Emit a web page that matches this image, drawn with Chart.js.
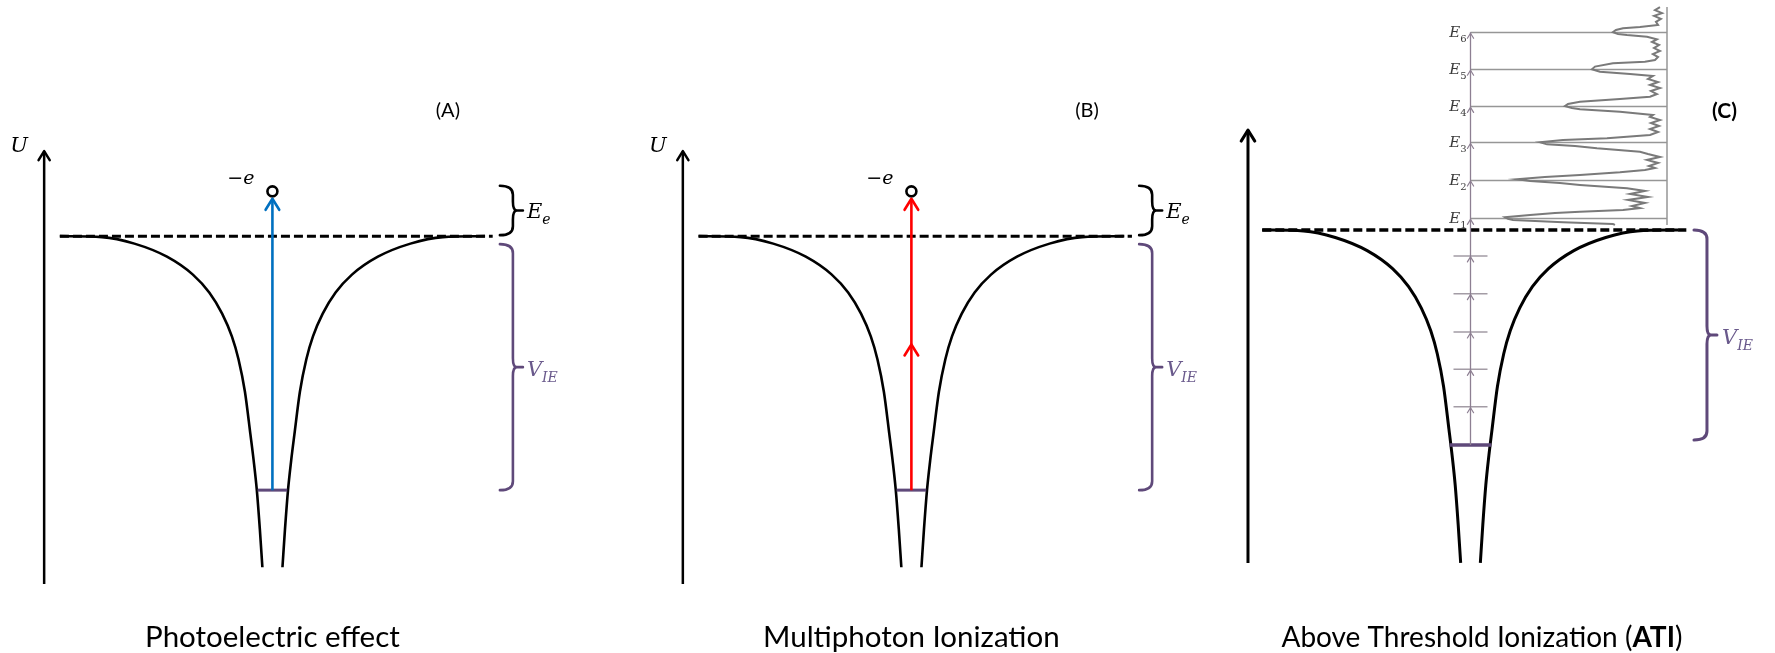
<!DOCTYPE html>
<html>
<head>
<meta charset="utf-8">
<script src="https://cdn.jsdelivr.net/npm/chart.js@4.4.1/dist/chart.umd.min.js"></script>
<style>
html,body{margin:0;padding:0;background:#fff;}
#wrap{position:relative;width:1775px;height:653px;overflow:hidden;background:#fff;}
#wrap canvas{position:absolute;top:0;}
</style>
</head>
<body>
<div id="wrap">
<canvas id="pa" width="600" height="653" style="left:0px"></canvas>
<canvas id="pb" width="630" height="653" style="left:600px"></canvas>
<canvas id="pc" width="545" height="653" style="left:1230px"></canvas>
</div>
<script>
// --- data (r in a.u. from the nucleus, energies in eV) ---

// left branch of the binding potential, right branch is its mirror image
const wellR = [-10.91, -8.74, -7.08, -5.41, -4.08, -3.24, -2.58, -2.08, -1.74, -1.41, -1.13, -0.96, -0.80, -0.645, -0.515];
const wellU = [0, -0.05, -0.40, -1.10, -2.06, -3.02, -4.15, -5.37, -6.59, -8.33, -10.60, -12.03, -13.60, -15.69, -17.73];
const thresholdR = [-10.9, 11.3];

// bound state per panel (A, B, C) and its width inside the well
const groundU = [-13.6, -13.6, -11.45];
const groundHalfR = [0.76, 0.76, 1.09];

// absorbed photons
const photonsA = [15.6];
const photonsB = [7.8, 7.8];
const electronU = 2.4;
const kineticTopU = 2.7;

// ATI: intermediate photon steps below threshold and the peak energies E1..E6
const ladderC = [-9.41, -7.42, -5.43, -3.39, -1.38];
const atiPeakU = [0.62, 2.66, 4.66, 6.58, 8.56, 10.53];
const atiLabels = ['1', '2', '3', '4', '5', '6'];

// photoelectron spectrum (energy, counts)
const atiU = [11.87, 11.71, 11.55, 11.40, 11.24, 11.08, 10.92, 10.81, 10.74, 10.65, 10.53, 10.44, 10.38, 10.29, 10.15,
  10.01, 9.85, 9.69, 9.53, 9.37, 9.21, 9.05, 8.96, 8.88, 8.70, 8.56, 8.43, 8.31, 8.20,
  8.04, 7.88, 7.72, 7.56, 7.40, 7.24, 7.10, 6.98, 6.83, 6.71, 6.60, 6.50, 6.43, 6.30, 6.12,
  6.02, 5.86, 5.70, 5.54, 5.38, 5.22, 5.06, 4.88, 4.79, 4.67, 4.56, 4.47, 4.35, 4.17,
  4.05, 3.89, 3.73, 3.57, 3.41, 3.30, 3.19, 3.07, 2.93, 2.82, 2.70, 2.61, 2.50, 2.40, 2.22,
  2.08, 1.92, 1.76, 1.60, 1.44, 1.28, 1.17, 1.06, 0.97, 0.91, 0.80, 0.68, 0.59, 0.53, 0.41, 0.32, 0.27];
const atiCounts = [4.4, 7.5, 3.1, 8.1, 3.8, 6.9, 5.6, 16.9, 27.5, 31.9, 33.8, 30.6, 25.0, 12.5, 6.3,
  9.4, 5.0, 8.1, 4.4, 8.8, 5.6, 7.5, 13.8, 33.8, 45.0, 46.9, 41.9, 23.1, 8.8,
  11.9, 5.6, 10.6, 4.4, 10.0, 6.3, 10.6, 29.4, 54.4, 61.9, 63.8, 59.4, 54.4, 29.4, 8.8,
  10.6, 4.4, 10.0, 5.0, 10.6, 5.6, 10.6, 37.5, 65.0, 79.4, 75.0, 57.5, 43.8, 16.9,
  11.9, 4.4, 12.5, 5.6, 11.3, 7.5, 13.8, 29.4, 54.4, 76.3, 93.8, 85.6, 66.9, 54.4, 25.0,
  13.8, 23.1, 11.9, 24.4, 13.8, 21.9, 16.9, 27.5, 54.4, 70.0, 85.6, 101.3, 99.4, 96.3, 65.0, 33.8, 32.5];

// energy axis of each panel: position and extent
const axisR = [-11.71, -11.71, -11.65];
const axisBottomU = [-18.62, -18.62, -17.73];
const axisTopU = [4.55, 4.55, 5.32];

const panelTags = ['(A)', '(B)', '(C)'];
const panelTitles = ['Photoelectric effect', 'Multiphoton Ionization', 'Above Threshold Ionization ('];

// --- layout ---
const H = 653;
const geom = [
  {id: 'pa', left: 0, width: 600, cx: 271.7, ty: 234, pxR: 20, pxE: 19.12},
  {id: 'pb', left: 600, width: 630, cx: 911.3, ty: 234, pxR: 20, pxE: 19.12},
  {id: 'pc', left: 1230, width: 545, cx: 1470.5, ty: 230, pxR: 19.1, pxE: 18.78}
];
const specFramePx = 1667, pxPerCount = 1.6;

const PURPLE = '#5F497A';
const MATH = '"DejaVu Serif", serif';
const SANS = 'Lato, "Open Sans", sans-serif';

function line(data, color, width, extra) {
  return Object.assign({
    data: data, showLine: true, borderColor: color, borderWidth: width,
    pointRadius: 0, fill: false, clip: false, tension: 0, borderCapStyle: 'butt'
  }, extra || {});
}

function wellSets(lw) {
  const left = wellR.map((r, i) => ({x: r, y: wellU[i]}));
  const right = wellR.map((r, i) => ({x: -r, y: wellU[i]})).reverse();
  return [
    line(left, '#000', lw, {cubicInterpolationMode: 'monotone'}),
    line(right, '#000', lw, {cubicInterpolationMode: 'monotone'})
  ];
}

function chevron(ctx, x, y, size, color, lw) {
  ctx.save();
  ctx.strokeStyle = color;
  ctx.lineWidth = lw;
  ctx.lineCap = 'round';
  ctx.lineJoin = 'round';
  ctx.beginPath();
  ctx.moveTo(x - size * 0.62, y + size);
  ctx.lineTo(x, y);
  ctx.lineTo(x + size * 0.62, y + size);
  ctx.stroke();
  ctx.restore();
}

function brace(ctx, x, y0, y1, color, lw) {
  const ym = (y0 + y1) / 2, w = 13, r = Math.min(9, (y1 - y0) / 5);
  ctx.save();
  ctx.strokeStyle = color;
  ctx.lineWidth = lw;
  ctx.lineCap = 'round';
  ctx.beginPath();
  ctx.moveTo(x, y0);
  ctx.quadraticCurveTo(x + w, y0, x + w, y0 + r);
  ctx.lineTo(x + w, ym - r);
  ctx.quadraticCurveTo(x + w, ym, x + w + 4, ym);
  ctx.quadraticCurveTo(x + w, ym, x + w, ym + r);
  ctx.lineTo(x + w, y1 - r);
  ctx.quadraticCurveTo(x + w, y1, x, y1);
  ctx.moveTo(x + w + 2, ym);
  ctx.lineTo(x + w + 10, ym);
  ctx.stroke();
  ctx.restore();
}

function text(ctx, str, x, y, font, color, align, base) {
  ctx.save();
  ctx.font = font;
  ctx.fillStyle = color;
  ctx.textAlign = align || 'left';
  ctx.textBaseline = base || 'alphabetic';
  ctx.fillText(str, x, y);
  ctx.restore();
}

function mathText(ctx, main, sub, x, y, size, color, align, subItalic) {
  const fMain = 'italic ' + size + 'px ' + MATH;
  const fSub = (subItalic ? 'italic ' : '') + Math.round(size * 0.68) + 'px ' + MATH;
  ctx.save();
  ctx.fillStyle = color;
  ctx.textAlign = 'left';
  ctx.textBaseline = 'alphabetic';
  ctx.font = fMain;
  const w1 = ctx.measureText(main).width;
  ctx.font = fSub;
  const w2 = ctx.measureText(sub).width;
  const x0 = align === 'right' ? x - w1 - w2 : x;
  ctx.font = fMain;
  ctx.fillText(main, x0, y);
  ctx.font = fSub;
  ctx.fillText(sub, x0 + w1, y + size * 0.3);
  ctx.restore();
}

// arrowheads on every vertex after the first of datasets that carry arrowSize
const arrowPlugin = {
  id: 'arrowHeads',
  afterDatasetsDraw(chart) {
    const ctx = chart.ctx;
    chart.data.datasets.forEach((ds) => {
      if (!ds.arrowSize) return;
      const xs = chart.scales[ds.xAxisID || 'x'], ys = chart.scales.y;
      ds.data.forEach((p, j) => {
        if (j === 0) return;
        chevron(ctx, xs.getPixelForValue(p.x), ys.getPixelForValue(p.y) + (ds.tipGap || 0),
          ds.arrowSize, ds.borderColor, ds.arrowWidth || ds.borderWidth);
      });
    });
  }
};

function baseOptions(g, extraScales) {
  const scales = {
    x: {type: 'linear', display: false, min: -(g.cx - g.left) / g.pxR, max: (g.left + g.width - g.cx) / g.pxR},
    y: {type: 'linear', display: false, min: -(H - g.ty) / g.pxE, max: g.ty / g.pxE}
  };
  return {
    responsive: false, animation: false, events: [],
    layout: {padding: 0},
    plugins: {legend: {display: false}, tooltip: {enabled: false}, title: {display: false}},
    scales: Object.assign(scales, extraScales || {})
  };
}

// panels A and B: single photon / two photons lifting the electron above threshold
function photoPanel(k, photons, color) {
  const g = geom[k];
  const ground = groundU[k];
  const steps = [{x: 0, y: ground}];
  let e = ground;
  photons.forEach(p => { e += p; steps.push({x: 0, y: e}); });

  const datasets = [
    {data: [{x: 0, y: electronU}], showLine: false, pointRadius: 5, pointBorderWidth: 2.6,
     pointBackgroundColor: '#fff', pointBorderColor: '#000', clip: false},
    line(steps, color, 2.6, {arrowSize: 11, arrowWidth: 2.6}),
    line([{x: -groundHalfR[k], y: ground}, {x: groundHalfR[k], y: ground}], PURPLE, 3),
    line([{x: thresholdR[0], y: 0}, {x: thresholdR[1], y: 0}], '#000', 3, {borderDash: [9, 4]}),
    ...wellSets(2.6),
    line([{x: axisR[k], y: axisBottomU[k]}, {x: axisR[k], y: axisTopU[k]}], '#000', 2.5, {arrowSize: 9, arrowWidth: 2.5})
  ];

  const labels = {
    id: 'labels' + k,
    afterDatasetsDraw(chart) {
      const ctx = chart.ctx, xs = chart.scales.x, ys = chart.scales.y;
      const ax = xs.getPixelForValue(axisR[k]), at = ys.getPixelForValue(axisTopU[k]);
      text(ctx, 'U', ax - 25, at + 1, 'italic 21px ' + MATH, '#000', 'center');
      text(ctx, panelTags[k], xs.getPixelForValue(9.0), ys.getPixelForValue(6.75), '20px ' + SANS, '#000', 'center', 'middle');

      const ex = xs.getPixelForValue(0), ey = ys.getPixelForValue(electronU);
      text(ctx, '\u2212e', ex - 18, ey - 7, 'italic 19px ' + MATH, '#000', 'right');

      const bx = xs.getPixelForValue(11.67);
      const y0 = ys.getPixelForValue(0);
      const yk = ys.getPixelForValue(kineticTopU);
      brace(ctx, bx, yk, y0 - 1, '#000', 2.6);
      mathText(ctx, 'E', 'e', bx + 27, (yk + y0) / 2 + 7, 21, '#000', 'left', true);

      const yg = ys.getPixelForValue(ground);
      brace(ctx, bx, y0 + 8, yg, PURPLE, 2.6);
      mathText(ctx, 'V', 'IE', bx + 27, (y0 + 8 + yg) / 2 + 9, 21, '#6A5A8C', 'left', true);

      text(ctx, panelTitles[k], xs.getPixelForValue(0), 647, '29.5px ' + SANS, '#000', 'center');
    }
  };

  return new Chart(document.getElementById(g.id), {
    type: 'scatter',
    data: {datasets: datasets},
    options: baseOptions(g),
    plugins: [arrowPlugin, labels]
  });
}

// panel C: photon ladder, ATI peaks and the measured spectrum
function atiPanel() {
  const k = 2, g = geom[k];
  const ground = groundU[k];
  const frameLocal = specFramePx - g.left;

  const ladder = [{x: 0, y: ground}]
    .concat(ladderC.map(u => ({x: 0, y: u})))
    .concat(atiPeakU.map(u => ({x: 0, y: u})));

  const ticks = [];
  ladderC.forEach(u => { ticks.push({x: -0.89, y: u}, {x: 0.89, y: u}, {x: NaN, y: NaN}); });

  const spectrum = atiU.map((u, i) => ({x: atiCounts[i], y: u}));
  const uLo = Math.min(...atiU), uHi = Math.max(...atiU);

  const datasets = [
    line(spectrum, '#7A7A7A', 2, {xAxisID: 'xs'}),
    line([{x: 0, y: uLo}, {x: 0, y: uHi}], '#969696', 1.5, {xAxisID: 'xs'}),
    line(ladder, '#8D7F92', 1.3, {arrowSize: 5, arrowWidth: 1.2, tipGap: 1}),
    line(ticks, '#A39CA5', 1.5, {spanGaps: false}),
    line([{x: -groundHalfR[k], y: ground}, {x: groundHalfR[k], y: ground}], PURPLE, 3.5),
    line([{x: thresholdR[0], y: 0}, {x: thresholdR[1], y: 0}], '#000', 3.5, {borderDash: [9, 4]}),
    ...wellSets(3),
    line([{x: axisR[k], y: axisBottomU[k]}, {x: axisR[k], y: axisTopU[k]}], '#000', 3, {arrowSize: 11, arrowWidth: 3})
  ];

  const labels = {
    id: 'labelsC',
    beforeDatasetsDraw(chart) {
      // energy levels E1..E6 run from the ladder to the spectrum frame
      const ctx = chart.ctx, xs = chart.scales.x, ss = chart.scales.xs, ys = chart.scales.y;
      const x0 = xs.getPixelForValue(0), x1 = ss.getPixelForValue(0);
      ctx.save();
      ctx.strokeStyle = '#969696';
      ctx.lineWidth = 1.5;
      atiPeakU.forEach(u => {
        const y = Math.round(ys.getPixelForValue(u)) + 0.5;
        ctx.beginPath();
        ctx.moveTo(x0, y);
        ctx.lineTo(x1, y);
        ctx.stroke();
      });
      ctx.restore();
    },
    afterDatasetsDraw(chart) {
      const ctx = chart.ctx, xs = chart.scales.x, ys = chart.scales.y;
      const lx = xs.getPixelForValue(0);
      atiPeakU.forEach((u, i) => {
        mathText(ctx, 'E', atiLabels[i], lx - 4, ys.getPixelForValue(u) + 5, 15, '#3A3A3A', 'right', false);
      });
      text(ctx, panelTags[k], xs.getPixelForValue(13.3), ys.getPixelForValue(6.35), 'bold 21px ' + SANS, '#000', 'center', 'middle');

      const bx = xs.getPixelForValue(11.7);
      const y0 = ys.getPixelForValue(0), yg = ys.getPixelForValue(ground);
      brace(ctx, bx, y0, yg - 5, PURPLE, 3);
      mathText(ctx, 'V', 'IE', bx + 28, (y0 + yg - 5) / 2 + 9, 21, '#6A5A8C', 'left', true);

      // title with the bold abbreviation
      const fReg = '28px ' + SANS, fBold = 'bold 28px ' + SANS;
      ctx.save();
      ctx.font = fReg;
      const wa = ctx.measureText(panelTitles[k]).width;
      const wc = ctx.measureText(')').width;
      ctx.font = fBold;
      const wb = ctx.measureText('ATI').width;
      ctx.restore();
      const start = xs.getPixelForValue(0.6) - (wa + wb + wc) / 2;
      text(ctx, panelTitles[k], start, 647, fReg, '#000');
      text(ctx, 'ATI', start + wa, 647, fBold, '#000');
      text(ctx, ')', start + wa + wb, 647, fReg, '#000');
    }
  };

  const opts = baseOptions(g, {
    xs: {type: 'linear', axis: 'x', display: false, reverse: true,
         min: -(g.width - frameLocal) / pxPerCount, max: frameLocal / pxPerCount}
  });

  return new Chart(document.getElementById(g.id), {
    type: 'scatter',
    data: {datasets: datasets},
    options: opts,
    plugins: [arrowPlugin, labels]
  });
}

photoPanel(0, photonsA, '#0070C0');
photoPanel(1, photonsB, '#FF0000');
atiPanel();
</script>
</body>
</html>
